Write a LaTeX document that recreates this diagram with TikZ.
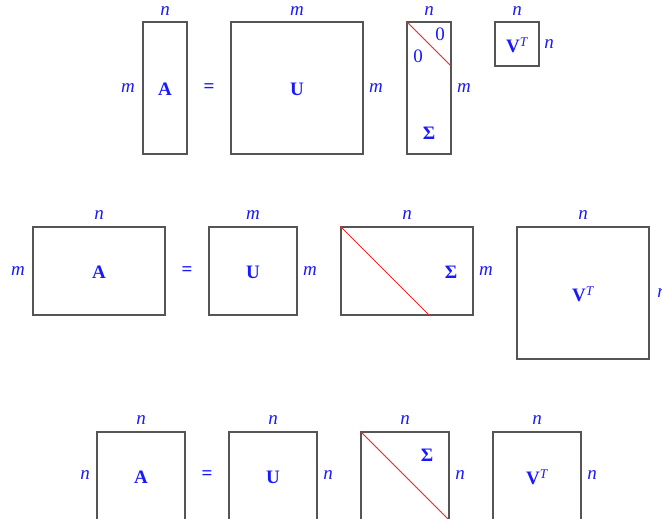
\documentclass[tikz,border=0pt]{standalone}
\usepackage{fontspec}
\setmainfont{Liberation Serif}
\definecolor{lblue}{RGB}{25,25,250}
\definecolor{boxgray}{RGB}{85,85,85}
\definecolor{diagred}{RGB}{245,35,35}
\newcommand{\vt}{V\textsuperscript{\mdseries\itshape T}}
\begin{document}
\begin{tikzpicture}[x=1pt,y=-1pt,
  mat/.style={draw=boxgray,line width=1.1pt,inner sep=0pt,minimum width=#1},
  lab/.style={text=lblue,font=\fontsize{19}{22}\selectfont\itshape,inner sep=0pt},
  sym/.style={text=lblue,font=\fontsize{19}{22}\selectfont\bfseries,inner sep=0pt},
  zero/.style={text=lblue,font=\fontsize{19}{22}\selectfont,inner sep=0pt},
  diag/.style={draw=diagred,line width=0.9pt}]
\useasboundingbox (0,0) rectangle (662,519);
% ---------- Row 1 ----------
\node[mat=44pt,minimum height=132pt] (A1) at (165,88) {};
\node[mat=132pt,minimum height=132pt] (U1) at (297,88) {};
\node[mat=44pt,minimum height=132pt] (S1) at (429,88) {};
\node[mat=44pt,minimum height=44pt] (V1) at (517,44) {};
\coordinate (S1d) at (451,66);
\draw[diag] (S1.north west) -- (S1d);
\node[sym] (A1t) at (165,89) {A};
\node[sym] (eq1) at (209,88) {=};
\node[sym] (U1t) at (297,89) {U};
\node[sym] (S1t) at (429,133) {Σ};
\node[sym] (V1t) at (517,45) {\vt};
\node[zero] (z1) at (440,34) {0};
\node[zero] (z2) at (418,56) {0};
\node[lab] (A1l) at (128,88) {m};
\node[lab] (A1u) at (165,11) {n};
\node[lab] (U1u) at (297,11) {m};
\node[lab] (U1r) at (376,88) {m};
\node[lab] (S1u) at (429,11) {n};
\node[lab] (S1r) at (464,88) {m};
\node[lab] (V1u) at (517,11) {n};
\node[lab] (V1r) at (549,44) {n};
% ---------- Row 2 ----------
\node[mat=132pt,minimum height=88pt] (A2) at (99,271) {};
\node[mat=88pt,minimum height=88pt] (U2) at (253,271) {};
\node[mat=132pt,minimum height=88pt] (S2) at (407,271) {};
\node[mat=132pt,minimum height=132pt] (V2) at (583,293) {};
\coordinate (S2d) at (429,315);
\draw[diag] (S2.north west) -- (S2d);
\node[sym] (A2t) at (99,272) {A};
\node[sym] (eq2) at (187,271) {=};
\node[sym] (U2t) at (253,272) {U};
\node[sym] (S2t) at (451,272) {Σ};
\node[sym] (V2t) at (583,294) {\vt};
\node[lab] (A2l) at (18,271) {m};
\node[lab] (A2u) at (99,215) {n};
\node[lab] (U2u) at (253,215) {m};
\node[lab] (U2r) at (310,271) {m};
\node[lab] (S2u) at (407,215) {n};
\node[lab] (S2r) at (486,271) {m};
\node[lab] (V2u) at (583,215) {n};
\node[lab] (V2r) at (662,293) {n};
% ---------- Row 3 ----------
\node[mat=88pt,minimum height=88pt] (A3) at (141,476) {};
\node[mat=88pt,minimum height=88pt] (U3) at (273,476) {};
\node[mat=88pt,minimum height=88pt] (S3) at (405,476) {};
\node[mat=88pt,minimum height=88pt] (V3) at (537,476) {};
\draw[diag] (S3.north west) -- (S3.south east);
\node[sym] (A3t) at (141,477) {A};
\node[sym] (eq3) at (207,475) {=};
\node[sym] (U3t) at (273,477) {U};
\node[sym] (S3t) at (427,455) {Σ};
\node[sym] (V3t) at (537,477) {\vt};
\node[lab] (A3l) at (85,475) {n};
\node[lab] (A3u) at (141,420) {n};
\node[lab] (U3u) at (273,420) {n};
\node[lab] (U3r) at (328,475) {n};
\node[lab] (S3u) at (405,420) {n};
\node[lab] (S3r) at (460,475) {n};
\node[lab] (V3u) at (537,420) {n};
\node[lab] (V3r) at (592,475) {n};
\end{tikzpicture}
\end{document}
